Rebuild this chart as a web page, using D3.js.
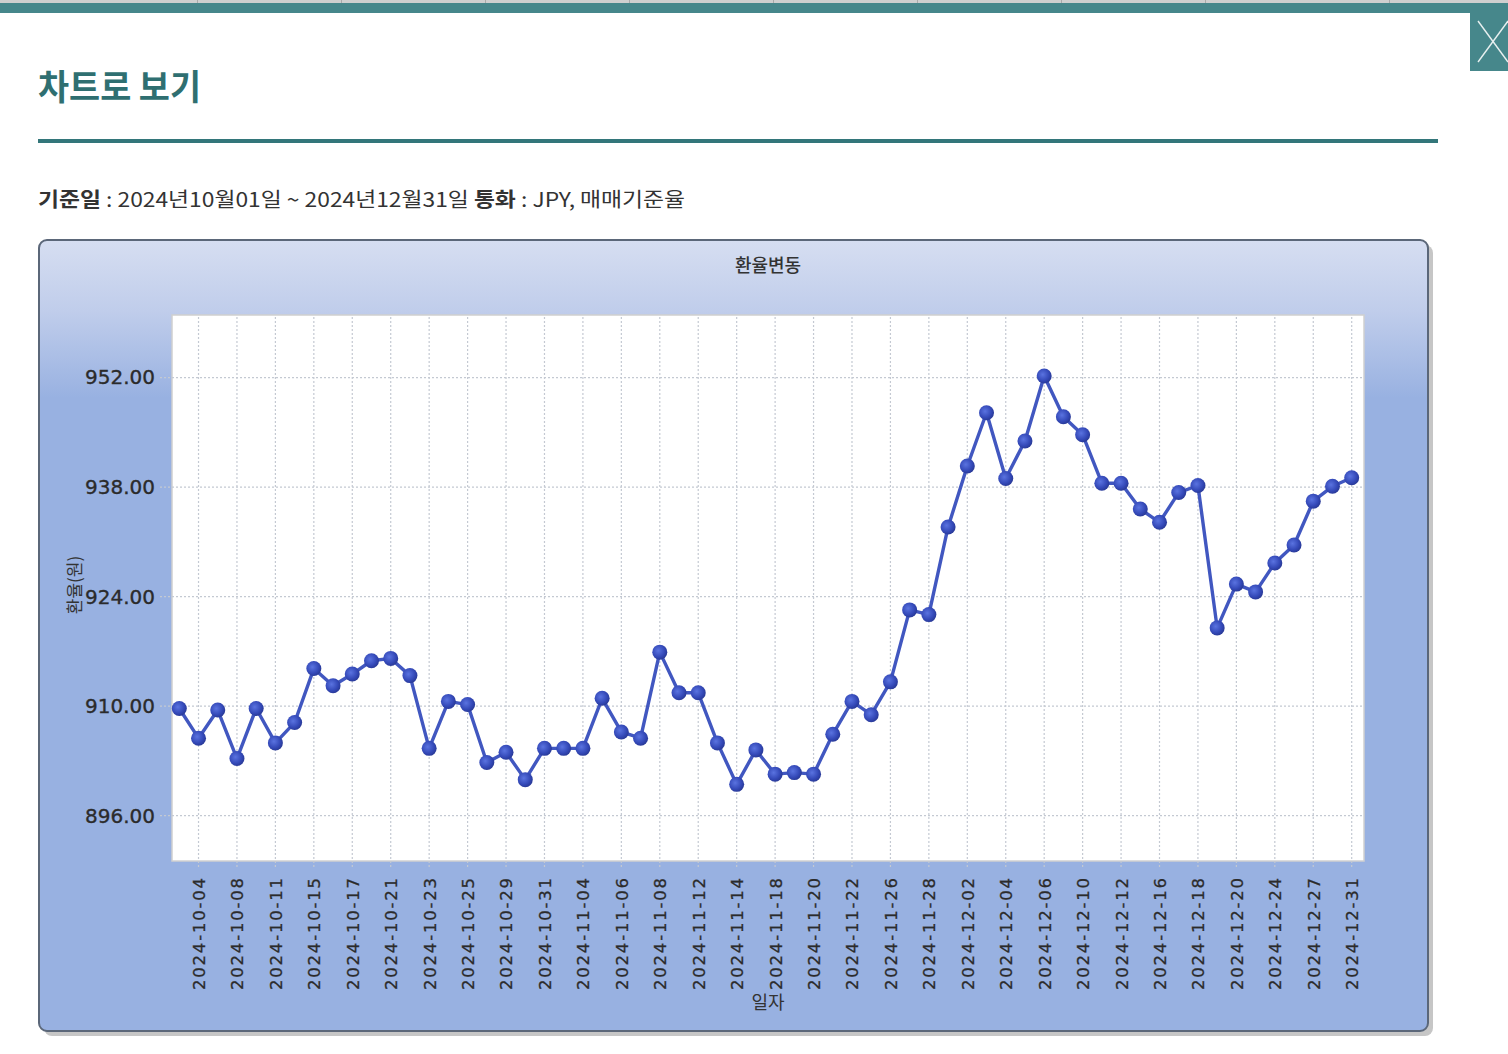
<!DOCTYPE html>
<html>
<head>
<meta charset="utf-8">
<script src="https://cdn.jsdelivr.net/npm/d3@7/dist/d3.min.js"></script>
<style>
  html, body { margin: 0; padding: 0; background: #fff; }
  svg { display: block; }
</style>
</head>
<body>
<svg id="page" width="1508" height="1054"></svg>
<script>
// ---- data ----
const dates = ["2024-10-02","2024-10-04","2024-10-07","2024-10-08","2024-10-10","2024-10-11","2024-10-14","2024-10-15","2024-10-16","2024-10-17","2024-10-18","2024-10-21","2024-10-22","2024-10-23","2024-10-24","2024-10-25","2024-10-28","2024-10-29","2024-10-30","2024-10-31","2024-11-01","2024-11-04","2024-11-05","2024-11-06","2024-11-07","2024-11-08","2024-11-11","2024-11-12","2024-11-13","2024-11-14","2024-11-15","2024-11-18","2024-11-19","2024-11-20","2024-11-21","2024-11-22","2024-11-25","2024-11-26","2024-11-27","2024-11-28","2024-11-29","2024-12-02","2024-12-03","2024-12-04","2024-12-05","2024-12-06","2024-12-09","2024-12-10","2024-12-11","2024-12-12","2024-12-13","2024-12-16","2024-12-17","2024-12-18","2024-12-19","2024-12-20","2024-12-23","2024-12-24","2024-12-26","2024-12-27","2024-12-30","2024-12-31"];
const rates = [909.7,905.9,909.5,903.3,909.7,905.3,907.9,914.8,912.6,914.1,915.8,916.1,913.9,904.6,910.6,910.2,902.8,904.1,900.6,904.6,904.6,904.6,911.0,906.7,905.9,916.9,911.7,911.7,905.3,900.0,904.4,901.3,901.5,901.3,906.4,910.6,908.9,913.1,922.3,921.7,932.9,940.7,947.5,939.1,943.9,952.2,947.0,944.7,938.5,938.5,935.2,933.5,937.3,938.2,920.0,925.6,924.6,928.3,930.6,936.2,938.1,939.2];
const tickDates = dates.filter((d, i) => i % 2 === 1);
const yTicks = [896, 910, 924, 938, 952];
const yDomain = [890.2, 960.0];

const pageTitle = "차트로 보기";
const chartTitle = "환율변동";
const xTitle = "일자";
const yTitle = "환율(원)";

// ---- page ----
const svg = d3.select("#page");
const defs = svg.append("defs");

// top strip
svg.append("rect").attr("x", 0).attr("y", 0).attr("width", 1508).attr("height", 4).attr("fill", "#cfcfcf");
[197, 341, 485, 629, 773, 917, 1061, 1205, 1389].forEach(x =>
  svg.append("rect").attr("x", x).attr("y", 0).attr("width", 1).attr("height", 4).attr("fill", "#a9a9a9"));
svg.append("rect").attr("x", 0).attr("y", 3).attr("width", 1508).attr("height", 10).attr("fill", "#46878b");

// close button
svg.append("rect").attr("x", 1470).attr("y", 13).attr("width", 38).attr("height", 58).attr("fill", "#46878b");
svg.append("line").attr("x1", 1478).attr("y1", 21).attr("x2", 1508).attr("y2", 62).attr("stroke", "#e8f0f0").attr("stroke-width", 1.4);
svg.append("line").attr("x1", 1478).attr("y1", 62).attr("x2", 1508).attr("y2", 21).attr("stroke", "#e8f0f0").attr("stroke-width", 1.4);

// page title
svg.append("text").attr("x", 38).attr("y", 100)
  .attr("font-family", "'Noto Sans CJK KR', sans-serif").attr("font-weight", 700)
  .attr("font-size", 35).attr("fill", "#2f6f71")
  .attr("textLength", 163).attr("lengthAdjust", "spacingAndGlyphs")
  .text(pageTitle);

svg.append("rect").attr("x", 38).attr("y", 139).attr("width", 1400).attr("height", 4).attr("fill", "#33767a");

// info line
const info = svg.append("text").attr("x", 38).attr("y", 207)
  .attr("font-family", "'Noto Sans CJK KR', sans-serif").attr("font-size", 20).attr("fill", "#333")
  .attr("textLength", 647).attr("lengthAdjust", "spacingAndGlyphs");
info.append("tspan").attr("font-weight", 700).text("기준일");
info.append("tspan").text(" : 2024년10월01일 ~ 2024년12월31일 ");
info.append("tspan").attr("font-weight", 700).text("통화");
info.append("tspan").text(" : JPY, 매매기준율");

// ---- chart panel ----
const panel = { x: 39, y: 240, w: 1389, h: 791 };
const grad = defs.append("linearGradient").attr("id", "panelGrad")
  .attr("x1", 0).attr("y1", 0).attr("x2", 0).attr("y2", 1);
grad.append("stop").attr("offset", "0%").attr("stop-color", "#d6def1");
grad.append("stop").attr("offset", "9%").attr("stop-color", "#c0cdeb");
grad.append("stop").attr("offset", "20%").attr("stop-color", "#98b1e1");
grad.append("stop").attr("offset", "100%").attr("stop-color", "#98b1e1");

svg.append("rect").attr("x", panel.x + 5).attr("y", panel.y + 5).attr("width", panel.w).attr("height", panel.h)
  .attr("rx", 8).attr("fill", "#c6c6c6");
svg.append("rect").attr("x", panel.x).attr("y", panel.y).attr("width", panel.w).attr("height", panel.h)
  .attr("rx", 8).attr("fill", "url(#panelGrad)").attr("stroke", "#5b6779").attr("stroke-width", 2);

const plot = { left: 172, top: 315, right: 1364, bottom: 861 };
svg.append("rect").attr("x", plot.left).attr("y", plot.top)
  .attr("width", plot.right - plot.left).attr("height", plot.bottom - plot.top)
  .attr("fill", "#fff").attr("stroke", "#d0d0d0").attr("stroke-width", 1.5);

// scales
const x = d3.scalePoint().domain(dates).range([179.3, 1351.7]);
const y = d3.scaleLinear().domain(yDomain).range([plot.bottom, plot.top]);

const chartFont = "'DejaVu Sans', sans-serif";

// gridlines
const grid = svg.append("g").attr("stroke", "#c4c9d2").attr("stroke-width", 1.2).attr("stroke-dasharray", "2,2");
grid.selectAll("line.v").data(tickDates).join("line").attr("class", "v")
  .attr("x1", d => x(d)).attr("x2", d => x(d)).attr("y1", plot.top + 2).attr("y2", plot.bottom + 7);
grid.selectAll("line.h").data(yTicks).join("line").attr("class", "h")
  .attr("x1", plot.left - 12).attr("x2", plot.right).attr("y1", d => y(d)).attr("y2", d => y(d));

// y axis
const yAxis = d3.axisLeft(y).tickValues(yTicks).tickFormat(d3.format(".2f")).tickSize(0).tickPadding(17);
const gy = svg.append("g").attr("transform", `translate(${plot.left},0)`).call(yAxis);
gy.select(".domain").remove();
gy.selectAll("text").attr("font-family", chartFont).attr("font-size", 20).attr("fill", "#2b2b2b")
  .attr("stroke", "#2b2b2b").attr("stroke-width", 0.35);

// x axis
const xAxis = d3.axisBottom(x).tickValues(tickDates).tickSize(0);
const gx = svg.append("g").attr("transform", `translate(0,${plot.bottom})`).call(xAxis);
gx.select(".domain").remove();
gx.selectAll("text")
  .attr("font-family", chartFont).attr("font-size", 16.5).attr("fill", "#2b2b2b")
  .attr("stroke", "#2b2b2b").attr("stroke-width", 0.3)
  .attr("text-anchor", "end")
  .attr("transform", "translate(0,17) rotate(-90)")
  .attr("x", 0).attr("y", 0).attr("dy", "0.36em")
  .attr("textLength", 112).attr("lengthAdjust", "spacing");

// titles
svg.append("text").attr("x", 768).attr("y", 272).attr("text-anchor", "middle")
  .attr("font-family", "'Noto Sans CJK KR', sans-serif").attr("font-size", 18).attr("font-weight", 500).attr("fill", "#333")
  .text(chartTitle);
svg.append("text").attr("x", 768).attr("y", 1009).attr("text-anchor", "middle")
  .attr("font-family", "'Noto Sans CJK KR', sans-serif").attr("font-size", 18).attr("fill", "#333")
  .text(xTitle);
svg.append("text").attr("transform", "translate(81,585) rotate(-90)").attr("text-anchor", "middle")
  .attr("font-family", "'Noto Sans CJK KR', sans-serif").attr("font-size", 17).attr("fill", "#333")
  .text(yTitle);

// line
const line = d3.line().x((d, i) => x(dates[i])).y(d => y(d));
svg.append("path").datum(rates).attr("d", line)
  .attr("fill", "none").attr("stroke", "#4157c0").attr("stroke-width", 3.4).attr("stroke-linejoin", "round");

// markers
const mg = defs.append("radialGradient").attr("id", "dotGrad").attr("cx", "40%").attr("cy", "40%").attr("r", "60%");
mg.append("stop").attr("offset", "0%").attr("stop-color", "#5a73e0");
mg.append("stop").attr("offset", "70%").attr("stop-color", "#3449b8");
mg.append("stop").attr("offset", "100%").attr("stop-color", "#2a3b9a");
svg.append("g").selectAll("circle").data(rates).join("circle")
  .attr("cx", (d, i) => x(dates[i])).attr("cy", d => y(d)).attr("r", 7.5)
  .attr("fill", "url(#dotGrad)");
</script>
</body>
</html>
